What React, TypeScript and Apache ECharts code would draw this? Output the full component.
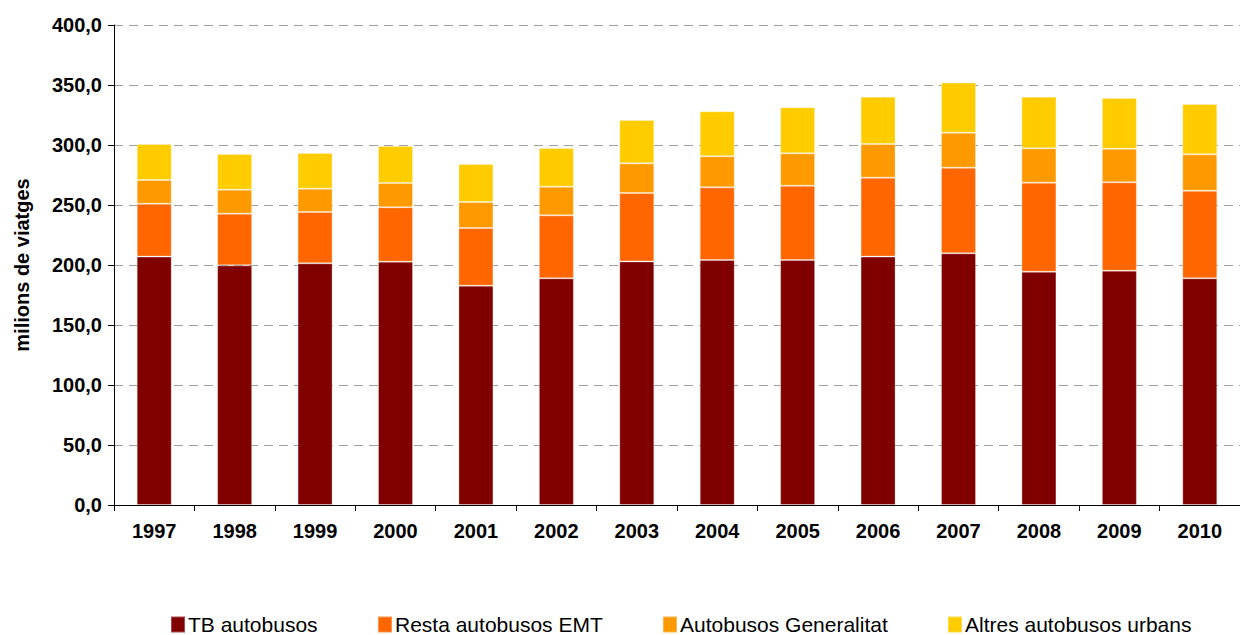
import React, { useEffect, useRef } from "react";
import * as echarts from "echarts";

const years = ["1997", "1998", "1999", "2000", "2001", "2002", "2003", "2004", "2005", "2006", "2007", "2008", "2009", "2010"];
const tbAutobusos = [207.0, 199.7, 201.4, 202.8, 182.8, 188.9, 203.0, 204.2, 204.2, 207.0, 209.7, 194.4, 195.3, 188.9];
const restaEMT = [44.1, 43.1, 42.8, 45.3, 48.0, 52.5, 57.0, 60.5, 61.9, 65.8, 71.4, 74.2, 73.6, 73.0];
const generalitat = [19.7, 20.0, 19.4, 20.2, 21.7, 23.9, 24.7, 25.9, 27.0, 28.0, 29.2, 28.6, 28.0, 30.3];
const altresUrbans = [30.0, 29.7, 29.7, 30.9, 31.7, 32.2, 36.1, 37.5, 38.3, 39.5, 41.7, 43.1, 42.3, 42.0];

const seriesNames = ["TB autobusos", "Resta autobusos EMT", "Autobusos Generalitat", "Altres autobusos urbans"];
const seriesData = [tbAutobusos, restaEMT, generalitat, altresUrbans];
const colors = ["#800000", "#FF6600", "#FF9900", "#FFCC00"];
const legendLefts = [165, 372, 657, 942];

export default function App() {
  const ref = useRef<HTMLDivElement>(null);
  useEffect(() => {
    document.body.style.margin = "0";
    if (!ref.current) return;
    const chart = echarts.init(ref.current, null, { renderer: "svg" });
    const font = "Arial, 'Liberation Sans', sans-serif";
    chart.setOption({
      animation: false,
      color: colors,
      textStyle: { fontFamily: font },
      grid: { left: 114, top: 25, width: 1137, height: 480, containLabel: false },
      legend: seriesNames.map((n, i) => ({
        data: [n],
        left: legendLefts[i],
        top: 609,
        icon: "rect",
        itemWidth: 14,
        itemHeight: 16,
        itemGap: 0,
        textStyle: { fontSize: 21, color: "#000", fontFamily: font, padding: [0, 0, 0, -2] },
      })),
      xAxis: {
        type: "category",
        data: years,
        axisLine: { lineStyle: { color: "#000", width: 1 } },
        axisTick: { show: true, length: 6, lineStyle: { color: "#000" } },
        axisLabel: { fontSize: 20, fontWeight: "bold", color: "#000", margin: 16, fontFamily: font },
      },
      yAxis: {
        type: "value",
        min: 0,
        max: 400,
        interval: 50,
        name: "milions de viatges",
        nameLocation: "middle",
        nameGap: 82,
        nameRotate: 90,
        nameTextStyle: { fontSize: 20, fontWeight: "bold", color: "#000", fontFamily: font },
        axisLine: { show: true, lineStyle: { color: "#000", width: 1 } },
        axisTick: { show: true, length: 6, lineStyle: { color: "#000" } },
        axisLabel: {
          fontSize: 20,
          fontWeight: "bold",
          color: "#000",
          margin: 12,
          fontFamily: font,
          formatter: (v: number) => v.toFixed(1).replace(".", ","),
        },
        splitLine: { show: true, lineStyle: { color: "#a0a0a0", type: [9, 6], width: 1 } },
      },
      series: seriesNames.map((n, i) => ({
        name: n,
        type: "bar",
        stack: "total",
        data: seriesData[i],
        barWidth: 35,
        itemStyle: { color: colors[i], borderColor: "rgba(255,255,255,0.3)", borderWidth: 1 },
      })),
    });
    return () => chart.dispose();
  }, []);
  return <div ref={ref} style={{ width: 1240, height: 635 }} />;
}
